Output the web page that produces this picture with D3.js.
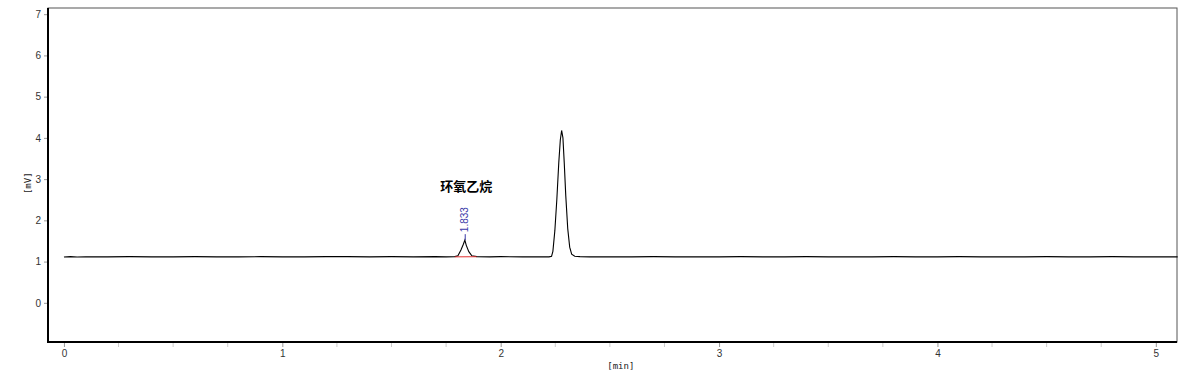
<!DOCTYPE html>
<html lang="zh">
<head>
<meta charset="UTF-8">
<title>Chromatogram</title>
<script src="https://d3js.org/d3.v7.min.js"></script>
<style>
  body, html { margin: 0; padding: 0; background: #fff; }
  svg { display: block; }
  .tick-label { font-family: "Liberation Sans", Arial, sans-serif; font-size: 10px; fill: #333; }
  .unit { font-family: "DejaVu Sans Mono", "Liberation Mono", monospace; font-size: 9px; fill: #222; }
  .peak-name { font-family: "Noto Sans CJK SC", sans-serif; font-size: 13px; font-weight: bold; fill: #000; }
  .rt { font-family: "Liberation Sans", Arial, sans-serif; font-size: 10px; fill: #3a3aa8; }
</style>
</head>
<body>
<svg id="chart" width="1200" height="379"></svg>
<script>
// signal trace (time in min, signal in mV)
const times = [0, 0.03, 0.06, 0.1, 0.2, 0.3, 0.4, 0.5, 0.6, 0.7, 0.8, 0.9, 1.0, 1.1, 1.2, 1.3, 1.4, 1.5, 1.6, 1.7, 1.75,
  1.79, 1.804, 1.818, 1.829, 1.836, 1.842, 1.854, 1.868, 1.891, 1.95, 2.0, 2.1, 2.18, 2.221,
  2.233, 2.239, 2.248, 2.257, 2.266, 2.273, 2.279, 2.285, 2.291, 2.298, 2.307, 2.316, 2.325, 2.339, 2.363, 2.408,
  2.5, 2.6, 2.7, 2.8, 2.9, 3.0, 3.1, 3.2, 3.3, 3.4, 3.5, 3.6, 3.7, 3.8, 3.9, 4.0, 4.1, 4.2, 4.3, 4.4, 4.5, 4.6, 4.7, 4.8, 4.9, 5.0, 5.1];
const signal = [1.11, 1.12, 1.11, 1.115, 1.115, 1.12, 1.115, 1.115, 1.12, 1.115, 1.115, 1.12, 1.115, 1.115, 1.12, 1.12, 1.115, 1.12, 1.115, 1.12, 1.115,
  1.12, 1.14, 1.28, 1.42, 1.52, 1.40, 1.24, 1.14, 1.12, 1.115, 1.12, 1.115, 1.115, 1.115,
  1.13, 1.25, 1.75, 2.5, 3.4, 3.95, 4.18, 4.0, 3.4, 2.6, 1.8, 1.35, 1.18, 1.13, 1.12, 1.115,
  1.115, 1.115, 1.12, 1.115, 1.115, 1.115, 1.12, 1.115, 1.115, 1.12, 1.115, 1.115, 1.115, 1.12, 1.115, 1.115, 1.12, 1.115, 1.115, 1.115, 1.12, 1.115, 1.115, 1.12, 1.115, 1.115, 1.115];

// integration baseline under the first peak
const baseTimes = [1.79, 1.89];
const baseValues = [1.115, 1.118];

// peak annotation
const peakName = "环氧乙烷";
const peakTime = 1.833;
const peakTop = 1.52;

const xTicks = [0, 1, 2, 3, 4, 5];
const yTicks = [0, 1, 2, 3, 4, 5, 6, 7];

const svg = d3.select("#chart");
const m = { left: 48, right: 1177, top: 8, bottom: 342 };

const x = d3.scaleLinear().domain([-0.073, 5.097]).range([m.left, m.right]);
const y = d3.scaleLinear().domain([-0.95, 7.15]).range([m.bottom, m.top]);

// minor x ticks every 0.25 min
const minor = d3.range(0, 5.1, 0.25).filter(t => Math.abs(t - Math.round(t)) > 0.01);
svg.append("g").selectAll("line").data(minor).join("line")
  .attr("x1", d => x(d)).attr("x2", d => x(d))
  .attr("y1", m.bottom).attr("y2", m.bottom + 5)
  .attr("stroke", "#ccc");

const xAxis = svg.append("g")
  .attr("transform", `translate(0,${m.bottom})`)
  .call(d3.axisBottom(x).tickValues(xTicks).tickSize(5).tickPadding(3).tickFormat(d3.format("d")));
xAxis.select(".domain").remove();
xAxis.selectAll("line").attr("stroke", "#999");
xAxis.selectAll("text").attr("class", "tick-label");
xAxis.attr("font-family", null).attr("font-size", null);

const yAxis = svg.append("g")
  .attr("transform", `translate(${m.left},0)`)
  .call(d3.axisLeft(y).tickValues(yTicks).tickSize(4).tickPadding(3).tickFormat(d3.format("d")));
yAxis.select(".domain").remove();
yAxis.selectAll("line").attr("stroke", "#999");
yAxis.selectAll("text").attr("class", "tick-label");
yAxis.attr("font-family", null).attr("font-size", null);

// frame
svg.append("rect")
  .attr("x", m.left).attr("y", m.top)
  .attr("width", m.right - m.left).attr("height", m.bottom - m.top)
  .attr("fill", "none").attr("stroke", "#555").attr("stroke-width", 1);
svg.append("line").attr("x1", m.left).attr("x2", m.left).attr("y1", m.top).attr("y2", m.bottom + 1)
  .attr("stroke", "#000").attr("stroke-width", 2);
svg.append("line").attr("x1", m.left).attr("x2", m.right).attr("y1", m.bottom).attr("y2", m.bottom)
  .attr("stroke", "#000").attr("stroke-width", 2);

// axis titles
svg.append("text").attr("class", "unit")
  .attr("x", x(2.55)).attr("y", 369).attr("text-anchor", "middle").text("[min]");
svg.append("text").attr("class", "unit")
  .attr("transform", `translate(31,${y(2.9)}) rotate(-90)`)
  .attr("text-anchor", "middle").text("[mV]");

// trace
const pts = times.map((t, i) => [t, signal[i]]);
svg.append("path")
  .datum(pts)
  .attr("fill", "none").attr("stroke", "#000").attr("stroke-width", 1.1)
  .attr("d", d3.line().x(d => x(d[0])).y(d => y(d[1])));

svg.append("path")
  .datum(baseTimes.map((t, i) => [t, baseValues[i]]))
  .attr("fill", "none").attr("stroke", "#e03030").attr("stroke-width", 1)
  .attr("d", d3.line().x(d => x(d[0])).y(d => y(d[1])));

// retention time marker and labels
svg.append("line")
  .attr("x1", x(peakTime) + 1).attr("x2", x(peakTime) + 1)
  .attr("y1", y(peakTop)).attr("y2", y(peakTop) - 6)
  .attr("stroke", "#3a3aa8");
svg.append("text").attr("class", "rt")
  .attr("transform", `translate(${x(peakTime) + 4},${y(peakTop) - 8}) rotate(-90)`)
  .text(d3.format(".3f")(peakTime));
svg.append("text").attr("class", "peak-name")
  .attr("x", x(peakTime) + 2).attr("y", 191).attr("text-anchor", "middle")
  .text(peakName);
</script>
</body>
</html>
